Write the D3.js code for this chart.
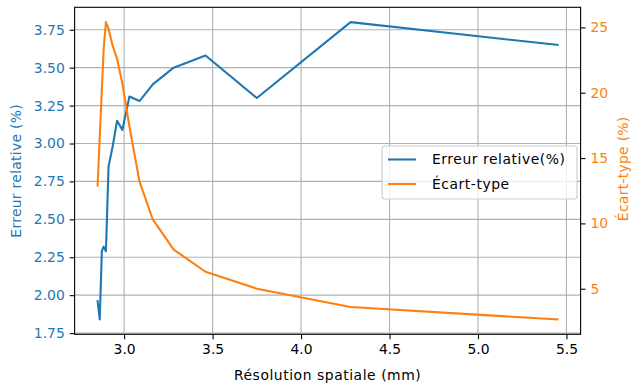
<!DOCTYPE html>
<html>
<head>
<meta charset="utf-8">
<script src="https://cdn.jsdelivr.net/npm/d3@7"></script>
<style>
  html, body { margin: 0; padding: 0; background: #fff; }
  svg text { font-family: "DejaVu Sans", sans-serif; }
</style>
</head>
<body>
<svg id="chart" width="631" height="388"></svg>
<script>
// Spatial resolution (mm) shared by both series
const resolution = [2.850, 2.862, 2.874, 2.884, 2.897, 2.912, 2.935, 2.960, 2.990, 3.030, 3.087, 3.162, 3.280, 3.460, 3.750, 4.280, 5.450];
// Relative error (%) — left axis
const relError = [1.96, 1.84, 2.29, 2.32, 2.29, 2.85, 2.98, 3.15, 3.09, 3.31, 3.28, 3.39, 3.50, 3.58, 3.30, 3.80, 3.65];
// Standard deviation (%) — right axis
const stdDev = [12.9, 16.6, 20.2, 23.3, 25.4, 24.9, 23.6, 22.6, 20.7, 17.4, 13.2, 10.3, 8.0, 6.3, 5.0, 3.6, 2.65];

const xTicks = [3.0, 3.5, 4.0, 4.5, 5.0, 5.5];
const leftTicks = [1.75, 2.00, 2.25, 2.50, 2.75, 3.00, 3.25, 3.50, 3.75];
const rightTicks = [5, 10, 15, 20, 25];

const blue = "#1f77b4", orange = "#ff7f0e";
const fontSize = 13.9;
const labelSpacing = "0.55px";

const svg = d3.select("#chart");
const m = { left: 74.6, right: 580.6, top: 7.3, bottom: 334.3 };

// 5% padding around the data range on each axis
function padded(vals) {
  const [a, b] = d3.extent(vals);
  const s = b - a;
  return [a - 0.05 * s, b + 0.05 * s];
}

const x = d3.scaleLinear().domain(padded(resolution)).range([m.left, m.right]);
const yL = d3.scaleLinear().domain(padded(relError)).range([m.bottom, m.top]);
const yR = d3.scaleLinear().domain(padded(stdDev)).range([m.bottom, m.top]);

// grid
const grid = svg.append("g");
grid.selectAll(".gx").data(xTicks).join("line")
  .attr("x1", d => x(d)).attr("x2", d => x(d))
  .attr("y1", m.top).attr("y2", m.bottom)
  .attr("stroke", "#b0b0b0").attr("stroke-width", 1.1);
grid.selectAll(".gy").data(leftTicks).join("line")
  .attr("y1", d => yL(d)).attr("y2", d => yL(d))
  .attr("x1", m.left).attr("x2", m.right)
  .attr("stroke", "#b0b0b0").attr("stroke-width", 1.1);

// lines
svg.append("clipPath").attr("id", "plotclip").append("rect")
  .attr("x", m.left).attr("y", m.top).attr("width", m.right - m.left).attr("height", m.bottom - m.top);

const lineL = d3.line().x((d, i) => x(resolution[i])).y(d => yL(d));
const lineR = d3.line().x((d, i) => x(resolution[i])).y(d => yR(d));

svg.append("path").datum(relError).attr("d", lineL)
  .attr("fill", "none").attr("stroke", blue).attr("stroke-width", 2.1)
  .attr("stroke-linejoin", "round").attr("stroke-linecap", "square")
  .attr("clip-path", "url(#plotclip)");
svg.append("path").datum(stdDev).attr("d", lineR)
  .attr("fill", "none").attr("stroke", orange).attr("stroke-width", 2.1)
  .attr("stroke-linejoin", "round").attr("stroke-linecap", "square")
  .attr("clip-path", "url(#plotclip)");

// axes
function styleAxis(g, color) {
  g.select(".domain").remove();
  g.selectAll(".tick line").attr("stroke", "#000").attr("stroke-width", 1.1);
  g.selectAll(".tick text").attr("fill", color).attr("font-size", fontSize)
    .attr("font-family", "DejaVu Sans, sans-serif");
}

const gx = svg.append("g").attr("transform", `translate(0,${m.bottom})`)
  .call(d3.axisBottom(x).tickValues(xTicks).tickFormat(d3.format(".1f")).tickSizeOuter(0).tickSize(4.9).tickPadding(4.9));
styleAxis(gx, "#000");

const gl = svg.append("g").attr("transform", `translate(${m.left},0)`)
  .call(d3.axisLeft(yL).tickValues(leftTicks).tickFormat(d3.format(".2f")).tickSizeOuter(0).tickSize(4.9).tickPadding(4.9));
styleAxis(gl, blue);

const gr = svg.append("g").attr("transform", `translate(${m.right},0)`)
  .call(d3.axisRight(yR).tickValues(rightTicks).tickFormat(d3.format("d")).tickSizeOuter(0).tickSize(4.9).tickPadding(4.9));
styleAxis(gr, orange);

// frame
svg.append("rect").attr("x", m.left).attr("y", m.top)
  .attr("width", m.right - m.left).attr("height", m.bottom - m.top)
  .attr("fill", "none").attr("stroke", "#000").attr("stroke-width", 1.1);

// axis titles
svg.append("text").attr("x", (m.left + m.right) / 2).attr("y", 380)
  .attr("text-anchor", "middle").attr("font-size", fontSize).attr("fill", "#000")
  .attr("letter-spacing", labelSpacing)
  .text("Résolution spatiale (mm)");
svg.append("text").attr("transform", `translate(21,${(m.top + m.bottom) / 2}) rotate(-90)`)
  .attr("text-anchor", "middle").attr("font-size", fontSize).attr("fill", blue)
  .attr("letter-spacing", "0.3px")
  .text("Erreur relative (%)");
svg.append("text").attr("transform", `translate(628,${(m.top + m.bottom) / 2 - 2}) rotate(-90)`)
  .attr("text-anchor", "middle").attr("font-size", fontSize).attr("fill", orange)
  .attr("letter-spacing", "0.3px")
  .text("Écart-type (%)");

// legend
const legendItems = [
  { label: "Erreur relative(%)", color: blue },
  { label: "Écart-type", color: orange }
];
const lg = svg.append("g").attr("transform", "translate(382,146)");
lg.append("rect").attr("width", 195).attr("height", 53).attr("rx", 3)
  .attr("fill", "#fff").attr("fill-opacity", 0.8)
  .attr("stroke", "#cccccc").attr("stroke-width", 1.1);
legendItems.forEach((it, i) => {
  const yy = 13.5 + i * 24.5;
  lg.append("line").attr("x1", 6).attr("x2", 34).attr("y1", yy).attr("y2", yy)
    .attr("stroke", it.color).attr("stroke-width", 2.1);
  lg.append("text").attr("x", 50).attr("y", yy).attr("dy", "0.35em")
    .attr("font-size", fontSize).attr("fill", "#000")
    .attr("letter-spacing", labelSpacing).text(it.label);
});
</script>
</body>
</html>
